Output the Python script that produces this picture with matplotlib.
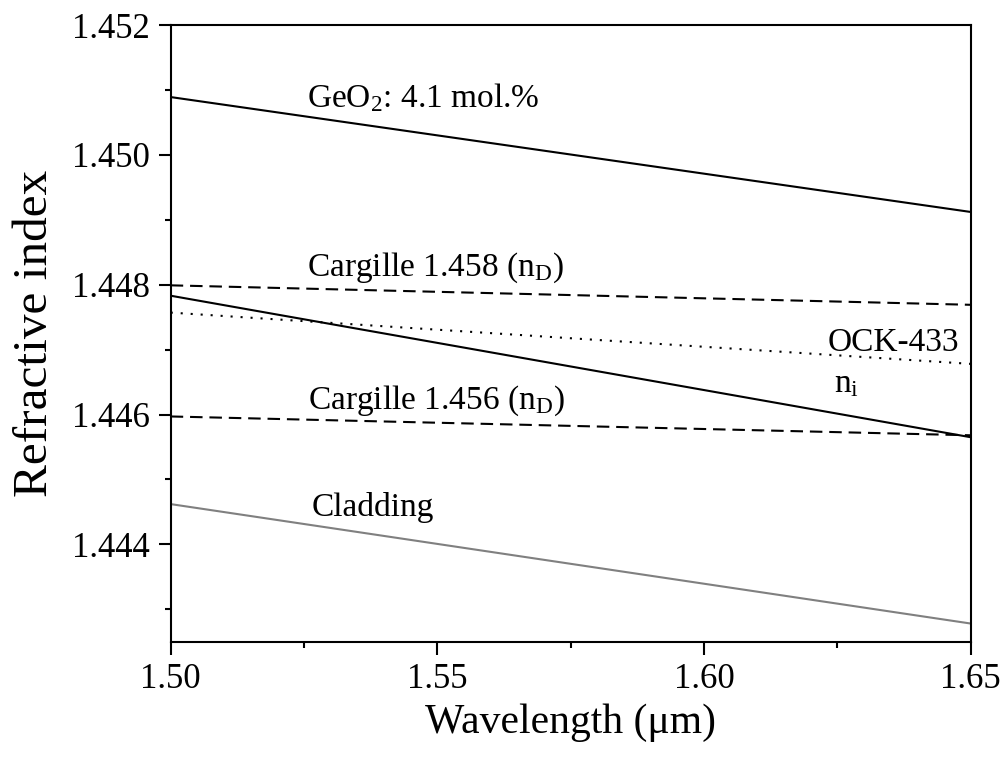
import numpy as np
import matplotlib
matplotlib.use('Agg')
import matplotlib.pyplot as plt
from matplotlib.ticker import MultipleLocator

plt.rcParams['font.family'] = ['Liberation Serif', 'DejaVu Serif']
plt.rcParams['mathtext.fontset'] = 'custom'
plt.rcParams['mathtext.rm'] = 'Liberation Serif'
plt.rcParams['mathtext.it'] = 'Liberation Serif:italic'

# wavelength (um) and refractive index at the ends of each curve
wl = np.array([1.50, 1.65])
n_geo2 = np.array([1.45089, 1.44912])
n_carg458 = np.array([1.44799, 1.44769])
n_ock433 = np.array([1.44757, 1.44678])
n_i = np.array([1.44783, 1.44565])
n_carg456 = np.array([1.44597, 1.44568])
n_clad = np.array([1.44462, 1.44278])

labels = ['GeO$_2$: 4.1 mol.%', 'Cargille 1.458 (n$_\\mathrm{D}$)', 'OCK-433',
          'n$_\\mathrm{i}$', 'Cargille 1.456 (n$_\\mathrm{D}$)', 'Cladding']
label_x = [1.5256, 1.5256, 1.6231, 1.6243, 1.5258, 1.5264]
label_y = [1.45074, 1.44814, 1.44698, 1.44634, 1.44609, 1.44443]

fig = plt.figure(figsize=(10.07, 7.58), dpi=100)
ax = fig.add_axes([0.1695, 0.1534, 0.7945, 0.8136])

lw = 1.5
ax.plot(wl, n_geo2, c='k', lw=lw)
ax.plot(wl, n_carg458, c='k', lw=lw, ls=(0, (6, 3.3)))
ax.plot(wl, n_ock433, c='k', lw=lw, ls=(0, (1, 3.8)))
ax.plot(wl, n_i, c='k', lw=lw)
ax.plot(wl, n_carg456, c='k', lw=lw, ls=(0, (6, 3.3)))
ax.plot(wl, n_clad, c='#808080', lw=lw)

for t, x, y in zip(labels, label_x, label_y):
    ax.text(x, y, t, fontsize=24, ha='left', va='baseline')

ax.set_xlim(1.50, 1.65)
ax.set_ylim(1.4425, 1.452)
ax.xaxis.set_major_locator(MultipleLocator(0.05))
ax.xaxis.set_minor_locator(MultipleLocator(0.025))
ax.yaxis.set_major_locator(MultipleLocator(0.002))
ax.yaxis.set_minor_locator(MultipleLocator(0.001))
ax.xaxis.set_major_formatter(matplotlib.ticker.FormatStrFormatter('%.2f'))
ax.yaxis.set_major_formatter(matplotlib.ticker.FormatStrFormatter('%.3f'))

ax.tick_params(which='both', direction='out', width=1.5, labelsize=25,
               top=False, right=False)
ax.tick_params(which='major', length=9, pad=6)
ax.tick_params(which='minor', length=4.5)
for s in ax.spines.values():
    s.set_linewidth(1.5)

ax.set_xlabel('Wavelength (μm)', fontsize=30, labelpad=6)
ax.set_ylabel('Refractive index', fontsize=35.5, labelpad=11)

fig.savefig('out.png', dpi=100)
